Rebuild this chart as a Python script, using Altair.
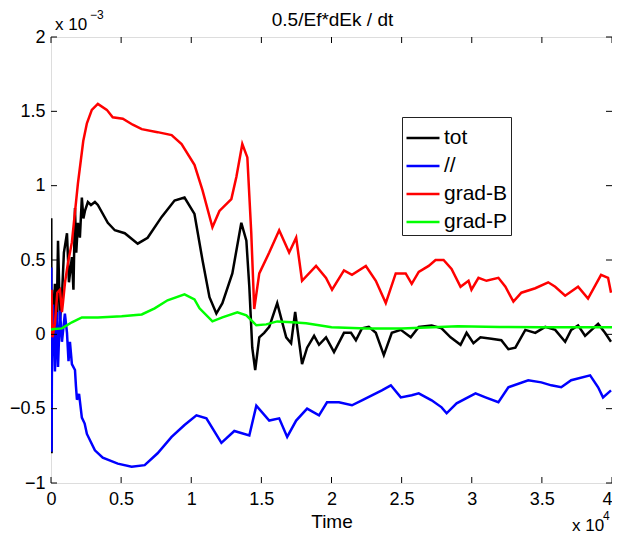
import altair as alt
import pandas as pd

# time in units of 1e4, values in units of 1e-3
tot_t = [0, 0.002, 0.004, 0.007, 0.014, 0.028, 0.040, 0.050, 0.064, 0.078, 0.092, 0.114, 0.128, 0.149, 0.160,
         0.171, 0.180, 0.192, 0.206, 0.220, 0.231, 0.242, 0.263, 0.285, 0.313, 0.334, 0.405, 0.455, 0.526, 0.618,
         0.689, 0.789, 0.881, 0.952, 1.023, 1.080, 1.130, 1.179, 1.222, 1.293, 1.357, 1.393, 1.414, 1.435, 1.456,
         1.485, 1.520, 1.556, 1.613, 1.677, 1.712, 1.741, 1.790, 1.826, 1.876, 1.911, 1.961, 2.018, 2.089, 2.139,
         2.174, 2.217, 2.266, 2.316, 2.373, 2.430, 2.494, 2.565, 2.622, 2.714, 2.785, 2.849, 2.920, 2.963, 3.012,
         3.062, 3.140, 3.211, 3.261, 3.311, 3.382, 3.453, 3.524, 3.595, 3.666, 3.709, 3.758, 3.808, 3.901, 3.950,
         3.993]
tot_v = [0.0, 0.78, -0.80, 0.30, -0.05, 0.34, 0.05, 0.63, 0.10, 0.25, 0.55, 0.68, 0.35, 0.52, 0.30,
         0.85, 0.55, 0.75, 0.65, 0.92, 0.78, 0.83, 0.89, 0.87, 0.89, 0.87, 0.75, 0.70, 0.68, 0.61,
         0.65, 0.79, 0.90, 0.92, 0.81, 0.50, 0.25, 0.14, 0.21, 0.41, 0.75, 0.63, 0.32, -0.09, -0.24,
         -0.02, 0.01, 0.05, 0.21, -0.02, -0.06, 0.15, -0.20, -0.09, -0.01, -0.07, -0.02, -0.12, 0.01, 0.01,
         -0.04, 0.04, 0.05, 0.01, -0.14, 0.01, 0.03, -0.02, 0.05, 0.06, 0.04, -0.02, -0.07, 0.01, -0.06,
         -0.02, -0.03, -0.04, -0.10, -0.09, 0.03, 0.01, 0.05, 0.03, -0.05, 0.03, 0.06, -0.01, 0.07, 0.01,
         -0.05]

par_t = [0, 0.002, 0.004, 0.007, 0.014, 0.028, 0.040, 0.050, 0.064, 0.078, 0.099, 0.114, 0.125, 0.135, 0.149,
         0.171, 0.178, 0.185, 0.200, 0.220, 0.240, 0.256, 0.313, 0.369, 0.476, 0.575, 0.668, 0.760, 0.860, 0.952,
         1.037, 1.108, 1.215, 1.307, 1.414, 1.464, 1.556, 1.627, 1.684, 1.748, 1.826, 1.911, 1.968, 2.053, 2.146,
         2.217, 2.288, 2.359, 2.423, 2.494, 2.572, 2.622, 2.714, 2.785, 2.821, 2.892, 3.027, 3.098, 3.190, 3.261,
         3.403, 3.496, 3.567, 3.638, 3.709, 3.844, 3.901, 3.936, 3.993]
par_v = [0.0, 0.45, -0.79, -0.06, 0.20, -0.25, 0.15, -0.22, 0.16, -0.05, 0.14, 0.01, -0.18, -0.05, -0.20,
         -0.24, -0.35, -0.44, -0.40, -0.56, -0.60, -0.67, -0.78, -0.83, -0.87, -0.89, -0.88, -0.80, -0.69, -0.61,
         -0.545, -0.565, -0.73, -0.65, -0.68, -0.48, -0.58, -0.565, -0.69, -0.58, -0.50, -0.545, -0.457, -0.457, -0.477,
         -0.444, -0.41, -0.377, -0.343, -0.424, -0.41, -0.397, -0.444, -0.491, -0.531, -0.464, -0.397, -0.424, -0.457, -0.356,
         -0.309, -0.323, -0.343, -0.356, -0.309, -0.276, -0.356, -0.424, -0.377]

gb_t = [0, 0.004, 0.010, 0.028, 0.045, 0.064, 0.078, 0.085, 0.100, 0.121, 0.149, 0.192, 0.230, 0.256, 0.291,
        0.334, 0.398, 0.440, 0.512, 0.583, 0.647, 0.760, 0.860, 0.931, 1.023, 1.080, 1.151, 1.201, 1.286, 1.322,
        1.364, 1.400, 1.428, 1.449, 1.485, 1.556, 1.627, 1.698, 1.748, 1.790, 1.890, 1.961, 2.004, 2.089, 2.146,
        2.245, 2.316, 2.387, 2.458, 2.529, 2.572, 2.622, 2.693, 2.742, 2.799, 2.856, 2.920, 2.977, 2.998, 3.048,
        3.105, 3.190, 3.240, 3.297, 3.354, 3.453, 3.545, 3.595, 3.666, 3.758, 3.829, 3.922, 3.972, 3.993]
gb_v = [0.0, 0.30, -0.02, 0.07, 0.28, 0.30, 0.15, 0.21, 0.35, 0.48, 0.62, 1.015, 1.30, 1.42, 1.51,
        1.55, 1.51, 1.46, 1.45, 1.41, 1.38, 1.36, 1.34, 1.28, 1.14, 0.97, 0.72, 0.83, 0.91, 1.06,
        1.28, 1.19, 0.68, 0.17, 0.41, 0.55, 0.70, 0.55, 0.65, 0.36, 0.46, 0.38, 0.30, 0.43, 0.40,
        0.46, 0.36, 0.21, 0.41, 0.41, 0.34, 0.42, 0.46, 0.50, 0.50, 0.44, 0.32, 0.36, 0.30, 0.38,
        0.36, 0.38, 0.32, 0.22, 0.28, 0.31, 0.35, 0.32, 0.26, 0.32, 0.24, 0.40, 0.38, 0.28]

gp_t = [0, 0.007, 0.078, 0.149, 0.220, 0.334, 0.504, 0.647, 0.739, 0.831, 0.952, 1.023, 1.059, 1.151, 1.222,
        1.329, 1.393, 1.464, 1.535, 1.613, 1.719, 1.819, 1.911, 2.0, 2.25, 2.5, 2.9, 3.2, 3.5, 4.0]
gp_v = [0.027, 0.034, 0.040, 0.081, 0.114, 0.114, 0.121, 0.134, 0.175, 0.229, 0.269, 0.235, 0.175, 0.087, 0.114,
        0.148, 0.128, 0.061, 0.067, 0.087, 0.081, 0.074, 0.061, 0.047, 0.040, 0.040, 0.054, 0.050, 0.047, 0.047]

series_names = ["tot", "//", "grad-B", "grad-P"]
series_colors = ["#000000", "#0000ff", "#ff0000", "#00ff00"]
x_ticks = [0, 0.5, 1, 1.5, 2, 2.5, 3, 3.5, 4]
y_ticks = [-1, -0.5, 0, 0.5, 1, 1.5, 2]

title_text = "0.5/Ef*dEk / dt"
x_title = "Time"

frames = []
for name, t, v in zip(series_names, [tot_t, par_t, gb_t, gp_t], [tot_v, par_v, gb_v, gp_v]):
    frames.append(pd.DataFrame({"t": t, "v": v, "series": name, "idx": list(range(len(t)))}))
df = pd.concat(frames, ignore_index=True)

FONT = "Liberation Sans"
W, H = 561, 446

x_scale = alt.Scale(domain=[0, 4], nice=False, zero=False)
y_scale = alt.Scale(domain=[-1, 2], nice=False, zero=False)

x_axis = alt.Axis(values=x_ticks, format="~g", tickSize=0, domain=False, grid=False,
                  labelFontSize=18, labelFont=FONT, labelColor="black", labelPadding=7,
                  labelAlign=alt.ConditionalAxisLabelAlign(
                      condition={"test": "datum.value == 4", "value": "right"}, value="center"),
                  title=x_title, titleFont=FONT, titleFontSize=19, titleFontWeight="normal",
                  titleColor="black", titlePadding=4, labelFlush=False)
y_axis = alt.Axis(values=y_ticks, format="~g", tickSize=0, domain=False, grid=False,
                  labelFontSize=18, labelFont=FONT, labelColor="black", labelPadding=6,
                  title=None, labelFlush=False)

color = alt.Color("series:N", scale=alt.Scale(domain=series_names, range=series_colors),
                  legend=alt.Legend(title=None, orient="none", legendX=351, legendY=80,
                                    symbolType="stroke", symbolSize=1089, symbolStrokeWidth=2.5,
                                    labelFontSize=21, labelFont=FONT, labelColor="black",
                                    strokeColor="#222222", fillColor="white", padding=3,
                                    rowPadding=-3.5, labelOffset=3, labelLimit=200))

layers = []
for name in series_names:
    layers.append(
        alt.Chart(df).transform_filter(alt.datum.series == name)
        .mark_line(strokeWidth=2.5, clip=True)
        .encode(x=alt.X("t:Q", scale=x_scale, axis=x_axis),
                y=alt.Y("v:Q", scale=y_scale, axis=y_axis),
                color=color, order="idx:Q")
    )

xt = pd.DataFrame({"t": x_ticks})
yt = pd.DataFrame({"v": y_ticks})
tick_b = alt.Chart(xt).mark_rule(color="black", strokeWidth=1).encode(
    x=alt.X("t:Q", scale=x_scale), y=alt.value(H), y2=alt.value(H - 6))
tick_t = alt.Chart(xt).mark_rule(color="black", strokeWidth=1).encode(
    x=alt.X("t:Q", scale=x_scale), y=alt.value(0), y2=alt.value(6))
tick_l = alt.Chart(yt).mark_rule(color="black", strokeWidth=1).encode(
    y=alt.Y("v:Q", scale=y_scale), x=alt.value(0), x2=alt.value(6))
tick_r = alt.Chart(yt).mark_rule(color="black", strokeWidth=1).encode(
    y=alt.Y("v:Q", scale=y_scale), x=alt.value(W), x2=alt.value(W - 6))

one = pd.DataFrame({"a": [0]})
def txt(s, x, y, size, align="left"):
    return alt.Chart(one).mark_text(text=s, font=FONT, fontSize=size, color="black",
                                    align=align, baseline="alphabetic").encode(
        x=alt.value(x), y=alt.value(y))

annots = [
    txt(title_text, W / 2 + 1, -11, 19, align="center"),
    txt("x 10", 4, -7, 17),
    txt("\u22123", 39, -18, 12),
    txt("x 10", 521, H + 48, 17),
    txt("4", 552, H + 37, 12),
]

chart = alt.layer(*layers, tick_b, tick_t, tick_l, tick_r, *annots).properties(
    width=W, height=H,
    autosize=alt.AutoSizeParams(type="none"),
    padding={"left": 43, "top": 29, "right": 0, "bottom": 56},
).configure_view(stroke="black", strokeWidth=1).configure(background="white")

chart.save("out.html", embed_options={"renderer": "svg", "actions": False})
